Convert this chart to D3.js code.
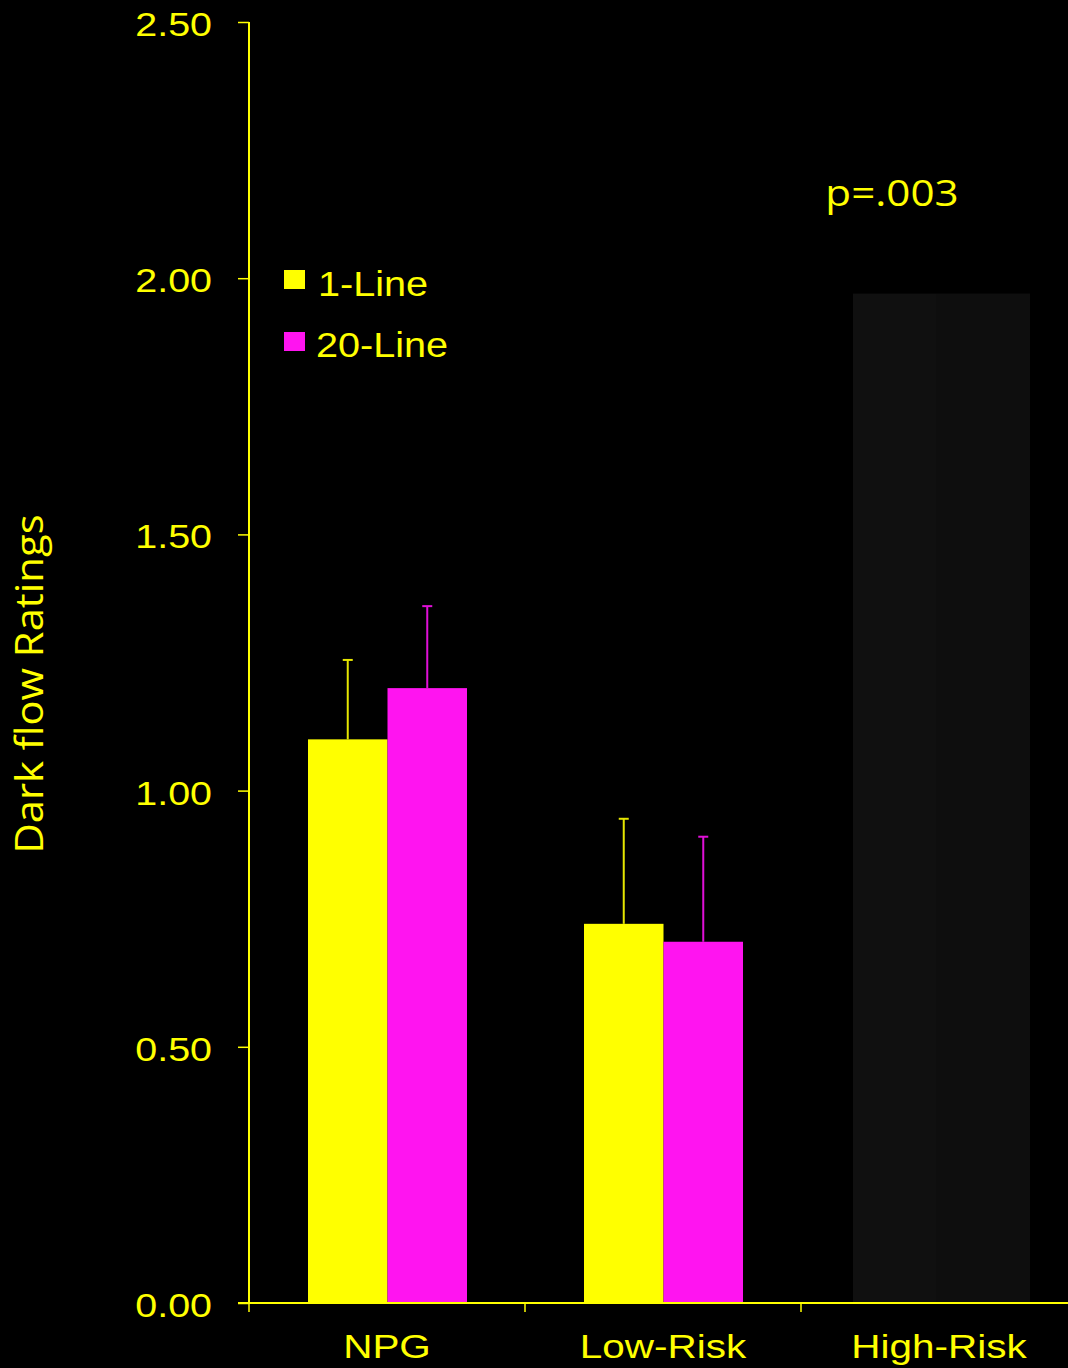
<!DOCTYPE html>
<html><head><meta charset="utf-8">
<script src="https://cdn.jsdelivr.net/npm/d3@7"></script>
<style>html,body{margin:0;padding:0;background:#000;}svg{display:block;}</style>
</head><body>
<svg id="c" width="1068" height="1368"></svg>
<script>
const categories = ["NPG", "Low-Risk", "High-Risk"];
const seriesNames = ["1-Line", "20-Line"];
const values1Line = [1.10, 0.74, null];
const values20Line = [1.20, 0.705, null];
const errors1Line = [0.155, 0.205, null];
const errors20Line = [0.16, 0.205, null];
const yTicks = [0, 0.5, 1.0, 1.5, 2.0, 2.5];
const coverTop = 1.97;
const pText = "p=.003";
const yTitle = "Dark flow Ratings";

const YEL = "#ffff00", MAG = "#ff14f0";
const ARIAL = "Liberation Sans, Arial, sans-serif";
const SANS = "Open Sans, Noto Sans, sans-serif";
const svg = d3.select("#c");
svg.append("rect").attr("width",1068).attr("height",1368).attr("fill","#000");

function stext(parent, x, y, str, size, family, anchor, sx, rot){
  const t = parent.append("text")
    .attr("transform", `translate(${x},${y})` + (rot?` rotate(${rot})`:"") + ` scale(${sx},1)`)
    .attr("text-anchor", anchor).attr("fill", YEL)
    .attr("font-family", family).attr("font-size", size).text(str);
  return t;
}

const y = d3.scaleLinear().domain([0,2.5]).range([1303,22]);
const x = d3.scaleBand().domain(categories).range([249,1077]);
const xs = d3.scaleBand().domain(seriesNames).range([-79,80]);

// cover rect on High-Risk
const hc = x("High-Risk") + x.bandwidth()/2;
svg.append("rect").attr("x",hc-86).attr("y",y(coverTop)).attr("width",83)
  .attr("height",y(0)-y(coverTop)).attr("fill","#101010");
svg.append("rect").attr("x",hc-3).attr("y",y(coverTop)).attr("width",94)
  .attr("height",y(0)-y(coverTop)).attr("fill","#0e0e0e");

const series = [
  {name:"1-Line", vals:values1Line, errs:errors1Line, color:YEL, err:"#e6e600"},
  {name:"20-Line", vals:values20Line, errs:errors20Line, color:MAG, err:"#e010d8"}
];
series.forEach(s=>{
  categories.forEach((c,i)=>{
    const v = s.vals[i]; if(v==null) return;
    const cx = x(c)+x.bandwidth()/2;
    const bx = cx + xs(s.name);
    const bw = xs.bandwidth();
    const top = y(v+s.errs[i]);
    const mx = bx + bw/2;
    svg.append("line").attr("x1",mx).attr("x2",mx).attr("y1",y(v)).attr("y2",top)
      .attr("stroke",s.err).attr("stroke-width",2);
    svg.append("line").attr("x1",mx-5).attr("x2",mx+5).attr("y1",top).attr("y2",top)
      .attr("stroke",s.err).attr("stroke-width",2);
    svg.append("rect").attr("x",bx).attr("y",y(v)).attr("width",bw).attr("height",y(0)-y(v))
      .attr("fill",s.color);
  });
});

// y axis
const ya = svg.append("g").attr("transform","translate(249,0)")
  .call(d3.axisLeft(y).tickValues(yTicks).tickFormat("").tickSize(11).tickSizeOuter(0));
ya.select(".domain").attr("stroke",YEL).attr("stroke-width",2).attr("d","M0,22V1303");
ya.selectAll(".tick line").attr("stroke",YEL).attr("stroke-width",1.5);
const fmt = d3.format(".2f");
yTicks.forEach(t=>{
  stext(svg, 212, y(t)+14, fmt(t), 34, ARIAL, "end", 1.16);
});

// x axis
const xa = svg.append("g").attr("transform","translate(0,1303)");
xa.append("line").attr("x1",238).attr("x2",1068).attr("y1",0).attr("y2",0).attr("stroke",YEL).attr("stroke-width",2);
categories.forEach((c,i)=>{
  const tx = x(c);
  xa.append("line").attr("x1",tx).attr("x2",tx).attr("y1",0).attr("y2",9).attr("stroke",YEL).attr("stroke-width",1.5);
  stext(xa, tx+x.bandwidth()/2, 55, c, 34, ARIAL, "middle", 1.19);
});

// y title
stext(svg, 43, 684, yTitle, 38, SANS, "middle", 1.10, -90);

// p text
stext(svg, 892, 206, pText, 37, SANS, "middle", 1.14);

// legend
const lg = svg.append("g");
series.forEach((s,i)=>{
  const ly = 270 + i*62;
  lg.append("rect").attr("x",284).attr("y",ly).attr("width",21).attr("height",19).attr("fill",s.color);
  stext(lg, i==0?318:316, i==0?296:357, s.name, 36, ARIAL, "start", 1.1);
});
</script>
</body></html>
